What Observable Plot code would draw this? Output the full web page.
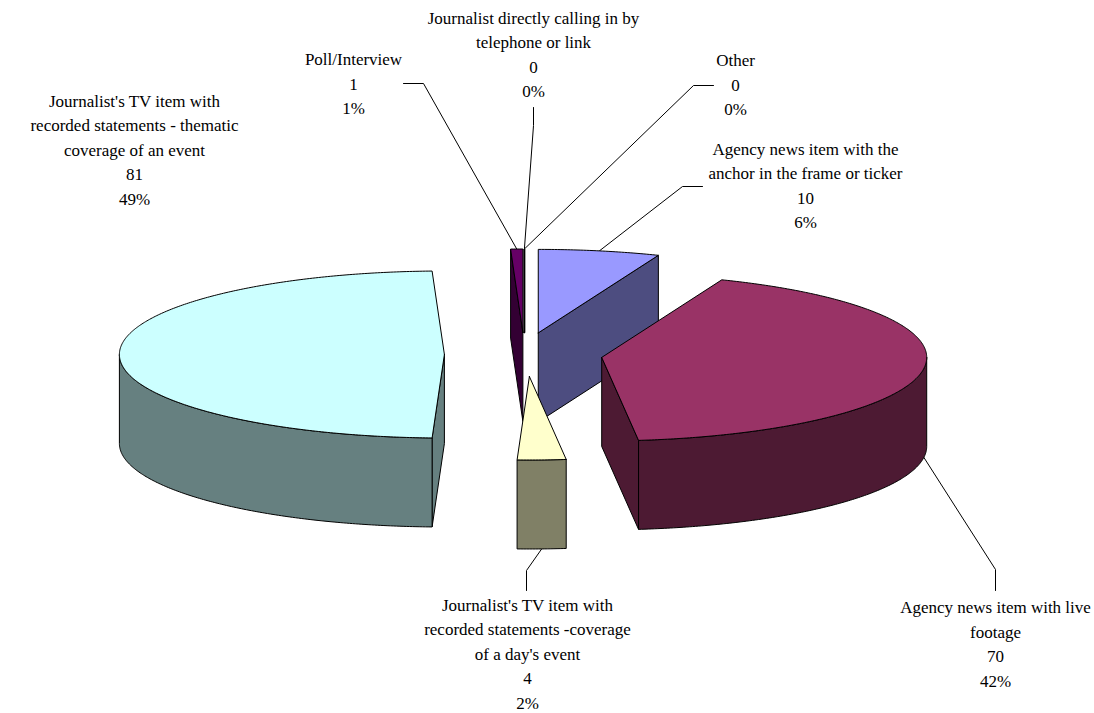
<!DOCTYPE html>
<html>
<head>
<meta charset="utf-8">
<script src="https://cdn.jsdelivr.net/npm/d3@7"></script>
<script src="https://cdn.jsdelivr.net/npm/@observablehq/plot@0.6"></script>
<style>
  html, body { margin: 0; padding: 0; background: #fff; }
  svg { display: block; }
</style>
</head>
<body>
<div id="chart"></div>
<script>
// Slices in clockwise order, starting from twelve o'clock.
const sliceNames = [
  "Agency news item with the\nanchor in the frame or ticker",
  "Agency news item with live\nfootage",
  "Journalist's TV item with\nrecorded statements -coverage\nof a day's event",
  "Journalist's TV item with\nrecorded statements - thematic\ncoverage of an event",
  "Poll/Interview",
  "Journalist directly calling in by\ntelephone or link",
  "Other"
];
const sliceCounts = [10, 70, 4, 81, 1, 0, 0];
const topColors = ["#9999ff", "#993366", "#ffffcc", "#ccffff", "#660066", "#660066", "#660066"];
const sideColors = ["#4d4d80", "#4d1a33", "#808066", "#668080", "#330033", "#330033", "#330033"];

// Pie projection: tilted ellipse, wall height and how far slices are pulled out.
const center = [522.9, 354];
const radiusX = 325, radiusY = 83.5, depth = 89;
const pullX = 79, pullY = 22;
// Small horizontal corrections to the pulled-out position of each slice.
const slideX = [0, 0, 3, 0, 1, 1, 1];

// Where each label block sits and the elbow of its leader line.
const labelSpots = [
  {x: 805, y: 183, leader: [[702, 186], [682, 186]]},
  {x: 995, y: 641.5, leader: [[995, 590], [995, 569]]},
  {x: 527, y: 651.5, leader: [[526, 590], [526, 570]]},
  {x: 134, y: 147.5, leader: null},
  {x: 353, y: 81.5, leader: [[403, 83], [423, 83]]},
  {x: 533, y: 52, leader: [[533, 107], [533, 125]]},
  {x: 735, y: 82.5, leader: [[713, 85], [693, 85]]}
];

const total = d3.sum(sliceCounts);
const arcs = d3.pie().sort(null).value(d => d)(sliceCounts);

const slices = arcs.map((a, i) => {
  const mid = (a.startAngle + a.endAngle) / 2;
  const cx = center[0] + pullX * Math.sin(mid) + slideX[i];
  const cy = center[1] - pullY * Math.cos(mid);
  const at = (t, drop = 0) => [cx + radiusX * Math.sin(t), cy - radiusY * Math.cos(t) + drop];
  return {i, a, mid, cx, cy, at, top: topColors[i], side: sideColors[i]};
});

// Points along an arc between two angles, at a fine angular step.
function arcPoints(s, from, to, drop = 0) {
  const n = Math.max(1, Math.ceil(Math.abs(to - from) / 0.01));
  return d3.range(n + 1).map(k => s.at(from + (to - from) * k / n, drop));
}

function closedShape(pts, fill, strokeWidth = 1) {
  return Plot.line([...pts, pts[0]], {
    x: d => d[0], y: d => d[1],
    fill, stroke: "#000", strokeWidth, strokeLinejoin: "miter"
  });
}

function sliceMarks(s) {
  const marks = [];
  const {startAngle: t0, endAngle: t1} = s.a;
  const apex = [s.cx, s.cy], apexLow = [s.cx, s.cy + depth];
  // Cut faces turned towards the viewer
  if (Math.sin(t0) < -1e-9) {
    marks.push(closedShape([apex, s.at(t0), s.at(t0, depth), apexLow], s.side));
  }
  if (Math.sin(t1) > 1e-9) {
    marks.push(closedShape([apex, s.at(t1), s.at(t1, depth), apexLow], s.side));
  }
  // Outer wall: only the part of the rim on the near half of the ellipse
  const w0 = Math.max(t0, Math.PI / 2), w1 = Math.min(t1, 3 * Math.PI / 2);
  if (w1 > w0) {
    marks.push(closedShape(
      [...arcPoints(s, w0, w1), ...arcPoints(s, w1, w0, depth)], s.side));
  }
  // Top face; an empty slice collapses to a heavier radial line
  marks.push(closedShape([apex, ...arcPoints(s, t0, t1)], s.top, sliceCounts[s.i] === 0 ? 1.6 : 1));
  return marks;
}

// Painter's order, back to front.
const paintOrder = [0, 5, 6, 4, 2, 1, 3];

// Leader lines run from the label elbow to the rim at the slice's mid-angle;
// slices on the near side are reached at the bottom of their wall.
const leaders = slices.flatMap(s => {
  const spot = labelSpots[s.i];
  if (!spot.leader) return [];
  const near = Math.cos(s.mid) < 0;
  const end = s.at(s.mid, near ? depth : 0);
  return [Plot.line([...spot.leader, end], {
    x: d => d[0], y: d => d[1], stroke: "#000", strokeWidth: 1
  })];
});

const labelRows = slices.map(s => ({
  x: labelSpots[s.i].x,
  y: labelSpots[s.i].y,
  text: `${sliceNames[s.i]}\n${sliceCounts[s.i]}\n${Math.round(sliceCounts[s.i] / total * 100)}%`
}));

const chart = Plot.plot({
  width: 1094,
  height: 713,
  margin: 0,
  x: {domain: [0, 1094], range: [0, 1094], axis: null},
  y: {domain: [0, 713], range: [0, 713], axis: null},
  marks: [
    ...leaders,
    ...paintOrder.flatMap(i => sliceMarks(slices[i])),
    Plot.text(labelRows, {
      x: "x", y: "y", text: "text",
      fontFamily: "Liberation Serif",
      fontSize: 17,
      lineHeight: 1.44,
      textAnchor: "middle",
      lineAnchor: "middle",
      fill: "#000"
    })
  ]
});
document.getElementById("chart").appendChild(chart);
</script>
</body>
</html>
